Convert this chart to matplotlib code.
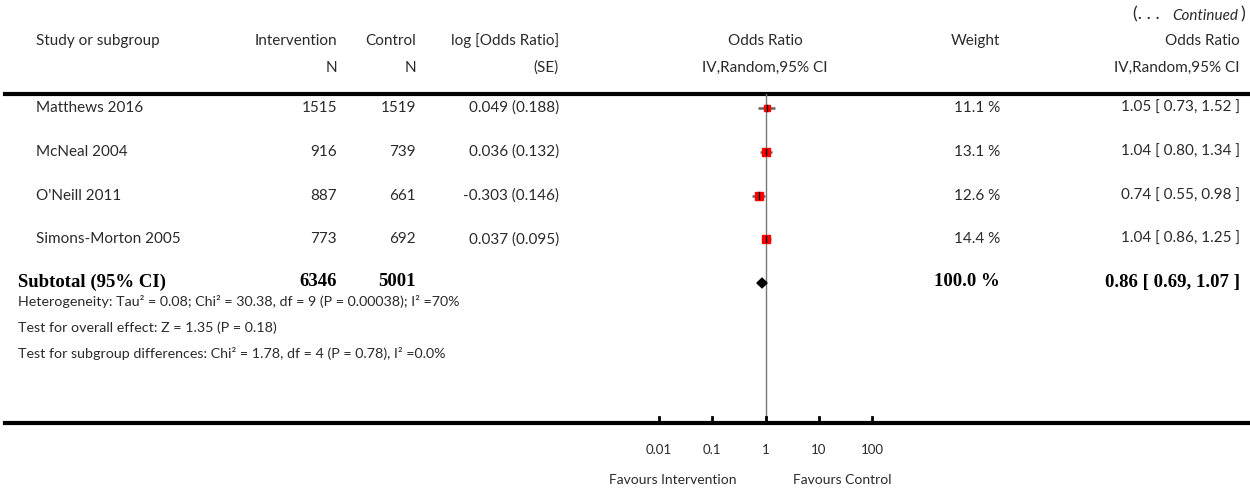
import numpy as np
import matplotlib.pyplot as plt
from matplotlib.patches import Polygon

plt.rcParams['font.family'] = ['Lato', 'DejaVu Sans']

# Data
studies = ["Matthews 2016", "McNeal 2004", "O'Neill 2011", "Simons-Morton 2005"]
n_int = [1515, 916, 887, 773]
n_ctl = [1519, 739, 661, 692]
log_or = ["0.049 (0.188)", "0.036 (0.132)", "-0.303 (0.146)", "0.037 (0.095)"]
weights = [11.1, 13.1, 12.6, 14.4]
or_est = [1.05, 1.04, 0.74, 1.04]
or_lo = [0.73, 0.80, 0.55, 0.86]
or_hi = [1.52, 1.34, 0.98, 1.25]

sub_n_int = 6346
sub_n_ctl = 5001
sub_weight = 100.0
sub_or = 0.86
sub_lo = 0.69
sub_hi = 1.07

footer = [
    "Heterogeneity: Tau\u00b2 = 0.08; Chi\u00b2 = 30.38, df = 9 (P = 0.00038); I\u00b2 =70%",
    "Test for overall effect: Z = 1.35 (P = 0.18)",
    "Test for subgroup differences: Chi\u00b2 = 1.78, df = 4 (P = 0.78), I\u00b2 =0.0%",
]
tick_vals = [0.01, 0.1, 1, 10, 100]
tick_labels = ["0.01", "0.1", "1", "10", "100"]

W, H = 1250, 491
fig = plt.figure(figsize=(W / 100, H / 100), dpi=100)

# background axes in pixel layout units
bg = fig.add_axes([0, 0, 1, 1])
bg.set_xlim(0, W)
bg.set_ylim(H, 0)
bg.axis("off")

# layout
row0, row_step = 108, 43.75
top_line, bot_line = 94, 423
x_lo_px, x_hi_px = 659, 872
txt = "#2a2a2a"
fs = 11


def row_y(i):
    return row0 + row_step * i


# forest axes with log scale
fa = fig.add_axes([x_lo_px / W, 1 - bot_line / H, (x_hi_px - x_lo_px) / W, (bot_line - top_line) / H])
fa.set_xscale("log")
fa.set_xlim(0.01, 100)
fa.set_ylim((bot_line - row0) / row_step, (top_line - row0) / row_step)
fa.axis("off")
fa.patch.set_alpha(0)

fa.axvline(1, color="#777777", lw=1, zorder=1)
for i in range(len(studies)):
    fa.plot([or_lo[i], or_hi[i]], [i, i], color="#666666", lw=1.8, solid_capstyle="butt", zorder=2)
    fa.plot(or_est[i], i, marker="s", color="#ff0000", ms=weights[i] * 0.42, mec="#ff0000", zorder=3)
    fa.plot([or_est[i], or_est[i]], [i - 0.07, i + 0.07], color="black", lw=1, zorder=4)

ys = len(studies)
dh = 0.11
diamond = Polygon([[sub_lo, ys], [sub_or, ys - dh], [sub_hi, ys], [sub_or, ys + dh]],
                  closed=True, color="black", zorder=3)
fa.add_patch(diamond)

# bottom axis ticks
for tv, tl in zip(tick_vals, tick_labels):
    fa.plot([tv, tv], [(bot_line - 6 - row0) / row_step, (bot_line - row0) / row_step],
            color="black", lw=2, clip_on=False)
    fa.text(tv, (450 - row0) / row_step, tl, ha="center", va="center", fontsize=9.5, color=txt)

# horizontal rules
bg.plot([5, W], [top_line, top_line], color="black", lw=3)
bg.plot([5, W], [bot_line, bot_line], color="black", lw=3)

# headers
bg.text(1245, 14, ")", ha="right", va="center", fontsize=13, color=txt)
bg.text(1238, 16, "Continued", ha="right", va="center", fontsize=11, style="italic", color=txt)
bg.text(1160, 14, "(. . .", ha="right", va="center", fontsize=13, color=txt)
h1, h2 = 41, 68
bg.text(36, h1, "Study or subgroup", ha="left", va="center", fontsize=fs, color=txt)
bg.text(337, h1, "Intervention", ha="right", va="center", fontsize=fs, color=txt)
bg.text(337, h2, "N", ha="right", va="center", fontsize=fs, color=txt)
bg.text(416, h1, "Control", ha="right", va="center", fontsize=fs, color=txt)
bg.text(416, h2, "N", ha="right", va="center", fontsize=fs, color=txt)
bg.text(559, h1, "log [Odds Ratio]", ha="right", va="center", fontsize=fs, color=txt)
bg.text(559, h2, "(SE)", ha="right", va="center", fontsize=fs, color=txt)
bg.text(765, h1, "Odds Ratio", ha="center", va="center", fontsize=fs, color=txt)
bg.text(765, h2, "IV,Random,95% CI", ha="center", va="center", fontsize=fs, color=txt)
bg.text(1000, h1, "Weight", ha="right", va="center", fontsize=fs, color=txt)
bg.text(1240, h1, "Odds Ratio", ha="right", va="center", fontsize=fs, color=txt)
bg.text(1240, h2, "IV,Random,95% CI", ha="right", va="center", fontsize=fs, color=txt)

# study rows
for i, s in enumerate(studies):
    y = row_y(i)
    bg.text(36, y, s, ha="left", va="center", fontsize=fs, color=txt)
    bg.text(337, y, str(n_int[i]), ha="right", va="center", fontsize=fs, color=txt)
    bg.text(416, y, str(n_ctl[i]), ha="right", va="center", fontsize=fs, color=txt)
    bg.text(559, y, log_or[i], ha="right", va="center", fontsize=fs, color=txt)
    bg.text(1000, y, f"{weights[i]:.1f} %", ha="right", va="center", fontsize=fs, color=txt)
    bg.text(1240, y, f"{or_est[i]:.2f} [ {or_lo[i]:.2f}, {or_hi[i]:.2f} ]",
            ha="right", va="center", fontsize=fs, color=txt)

# subtotal
y = row_y(len(studies)) - 1
sfont = dict(family="Liberation Serif", fontweight="bold", fontsize=13.5, color="black", va="center")
bg.text(18, y, "Subtotal (95% CI)", ha="left", **sfont)
bg.text(337, y, str(sub_n_int), ha="right", **sfont)
bg.text(416, y, str(sub_n_ctl), ha="right", **sfont)
bg.text(1000, y, f"{sub_weight:.1f} %", ha="right", **sfont)
bg.text(1240, y, f"{sub_or:.2f} [ {sub_lo:.2f}, {sub_hi:.2f} ]", ha="right", **sfont)

for k, line in enumerate(footer):
    bg.text(18, 302 + 26 * k, line, ha="left", va="center", fontsize=10.3, color=txt)

bg.text(673, 480, "Favours Intervention", ha="center", va="center", fontsize=10, color=txt)
bg.text(842, 480, "Favours Control", ha="center", va="center", fontsize=10, color=txt)

fig.savefig("out.png", dpi=100)
